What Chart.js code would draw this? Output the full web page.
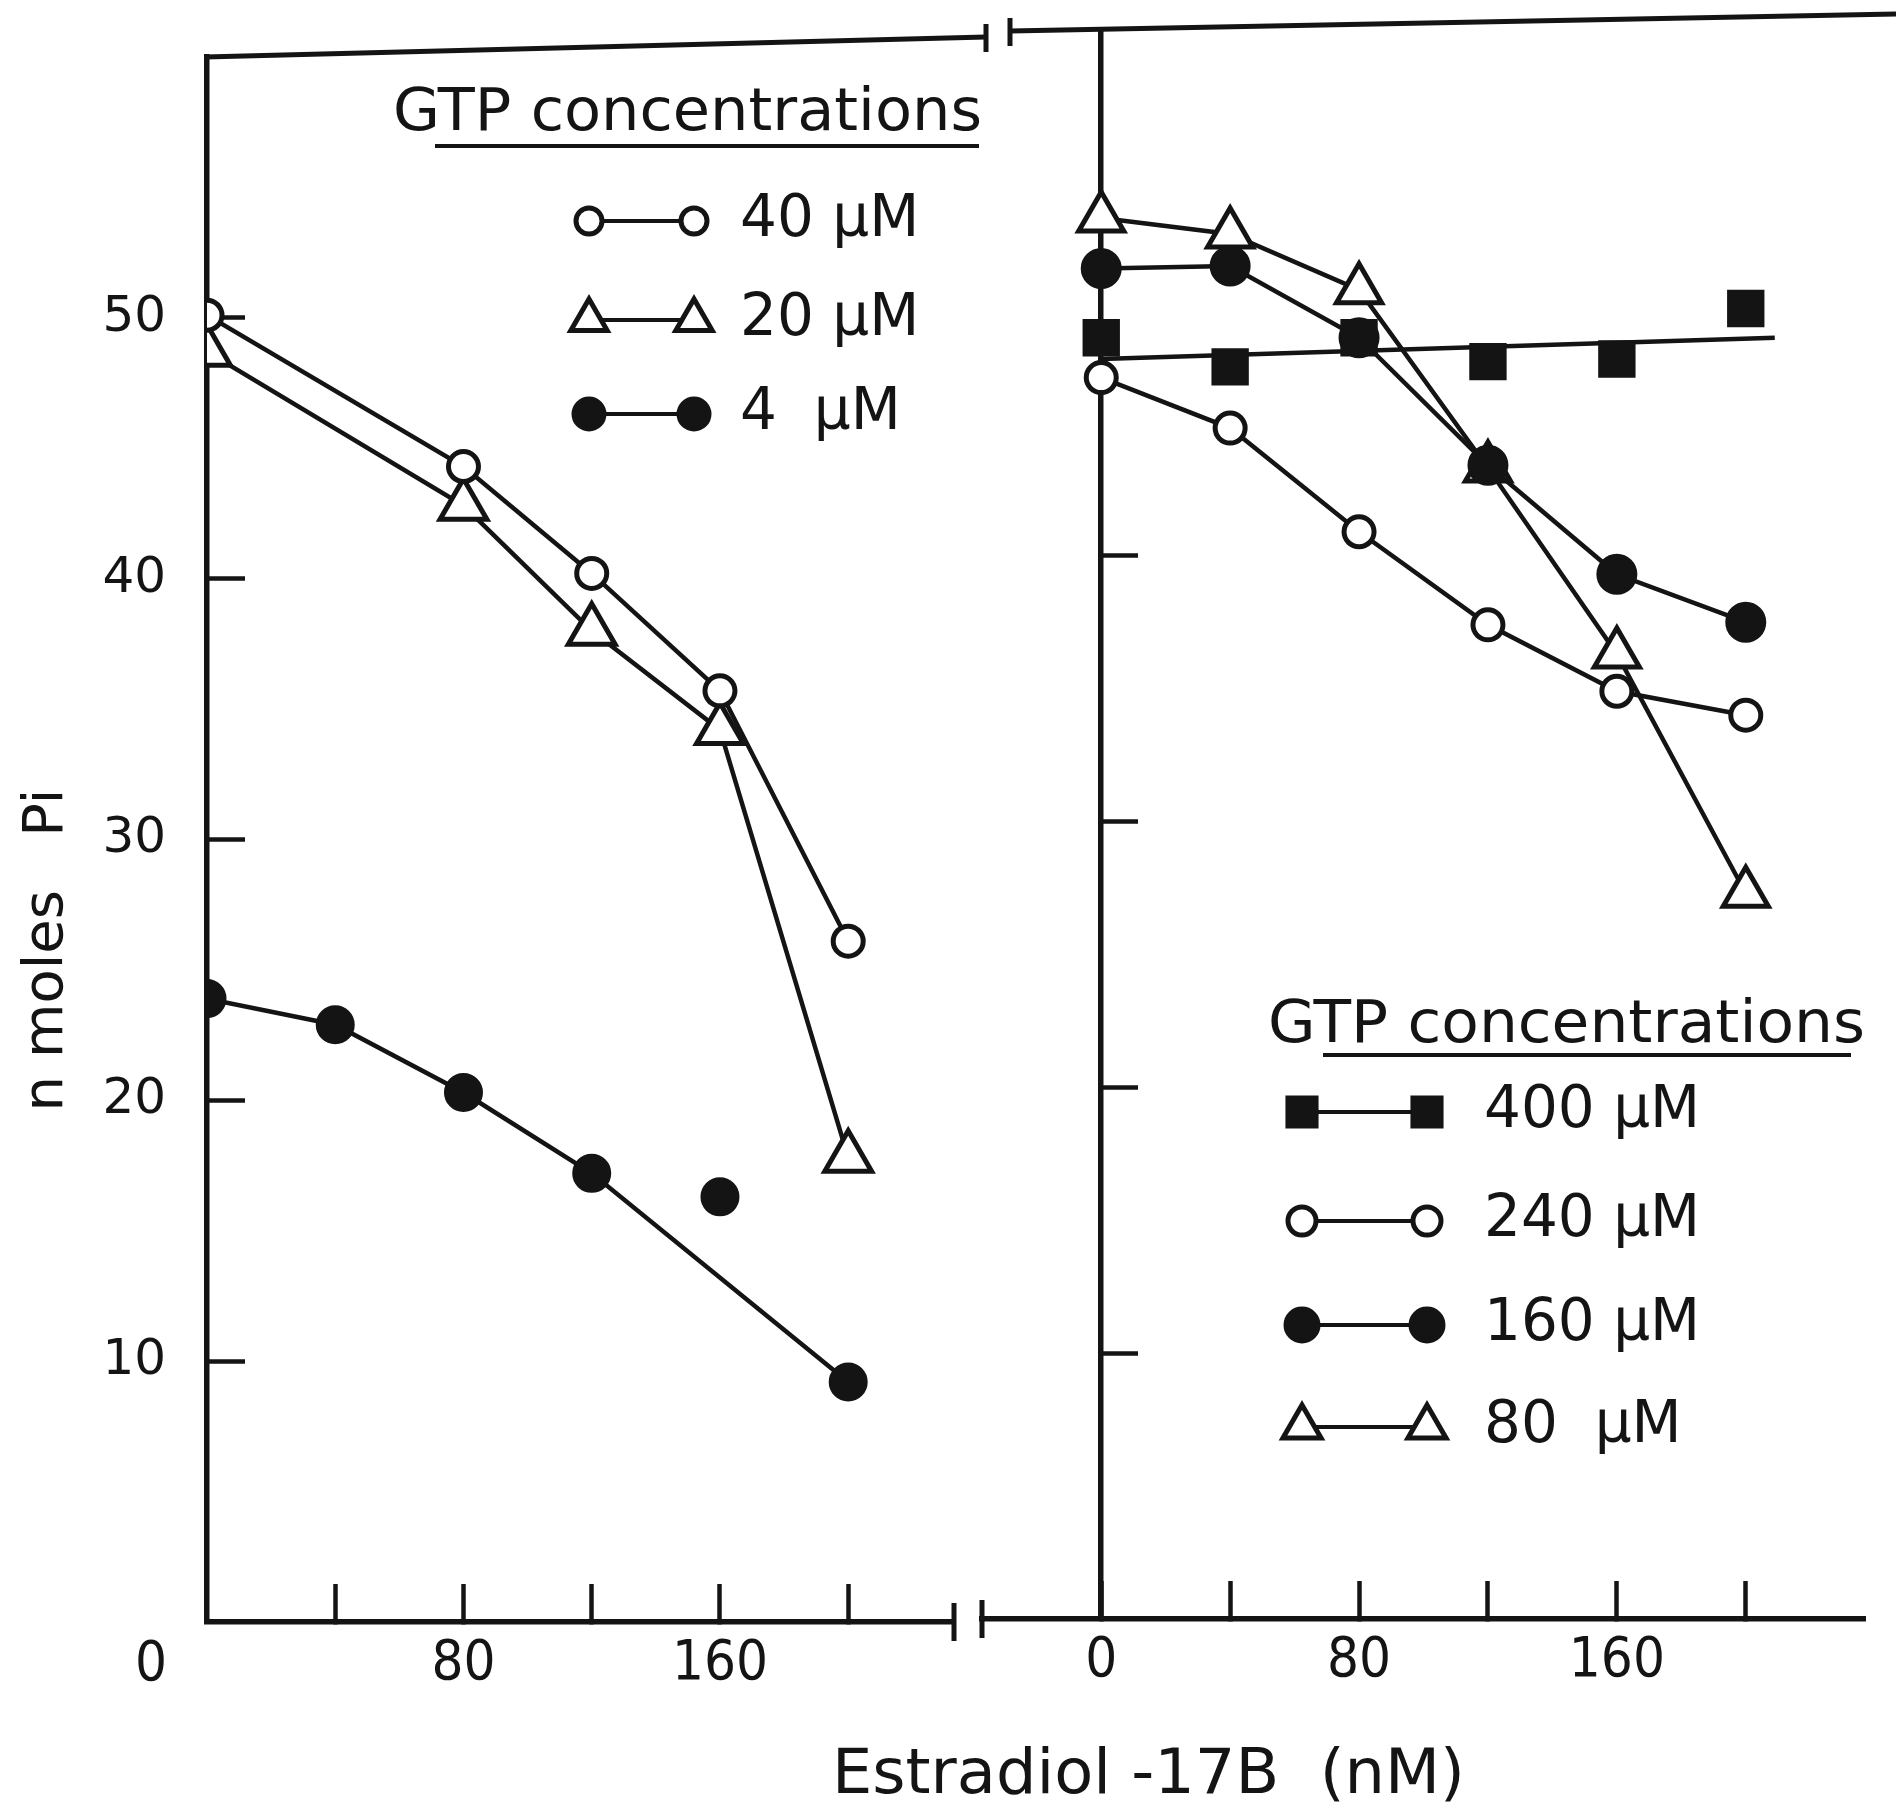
<!DOCTYPE html>
<html>
<head>
<meta charset="utf-8">
<title>GTP concentrations vs estradiol-17B</title>
<script src="https://cdn.jsdelivr.net/npm/chart.js@4.4.1/dist/chart.umd.min.js"></script>
<style>
  html, body { margin: 0; padding: 0; background: #fff; }
  #fig { position: relative; width: 1896px; height: 1803px; }
  #fig canvas { position: absolute; left: 0; top: 0; }
</style>
</head>
<body>
<div id="fig">
  <canvas id="lowGtp" width="1896" height="1803"></canvas>
  <canvas id="highGtp" width="1896" height="1803"></canvas>
</div>
<script>
// x = estradiol-17B (nM), y = n moles Pi

// left panel, low GTP
const estrLeft = [0, 80, 120, 160, 200];
const pi40uM = [50.1, 44.3, 40.2, 35.7, 26.1];
const pi20uM = [48.7, 42.8, 38.0, 34.2, 17.8];
const estrLeft4 = [0, 40, 80, 120, 160, 200];
const pi4uM = [23.9, 22.9, 20.3, 17.2, 16.3, 9.2];
const joined4uM = [true, true, true, true, false, true]; // the 160 nM point sits off the line

// right panel, high GTP
const estrRight = [0, 40, 80, 120, 160, 200];
const pi400uM = [48.2, 47.1, 48.2, 47.3, 47.4, 49.3];
const pi240uM = [46.7, 44.8, 40.9, 37.4, 34.9, 34.0];
const pi160uM = [50.8, 50.9, 48.2, 43.4, 39.3, 37.5];
const pi80uM = [52.7, 52.1, 50.0, 43.3, 36.3, 27.3];
// straight line drawn through the 400 uM points
const fit400X = [0, 209];
const fit400Y = [47.4, 48.2];

// ticks
const yTicksLeft = [10, 20, 30, 40, 50];
const yTicksRight = [10, 20, 30, 40];
const xTicksLeft = [40, 80, 120, 160, 200];
const xTicksRight = [0, 40, 80, 120, 160, 200];
const xLabelled = [0, 80, 160];

const ink = '#141414';
const FONT = '"DejaVu Sans", "Liberation Sans", sans-serif';
const NARROW = '"DejaVu Sans Condensed", "DejaVu Sans", sans-serif';

function pts(xs, ys) {
  return xs.map((x, i) => ({ x: x, y: ys[i] }));
}

function series(label, data, style, opts) {
  return Object.assign({
    label: label,
    data: data,
    showLine: true,
    borderColor: ink,
    borderWidth: 4.5,
    pointStyle: style,
    pointBorderColor: ink,
    pointBorderWidth: 5,
    pointBackgroundColor: '#fff',
    pointRadius: 15
  }, opts);
}

// the tick padding would otherwise be added to the chart area margins
function noEdgePadding(s) {
  s.paddingLeft = 0;
  s.paddingRight = 0;
  s.paddingTop = 0;
  s.paddingBottom = 0;
}

function xAxis(min, max, ticks, height) {
  return {
    type: 'linear',
    min: min,
    max: max,
    afterFit: s => { s.height = height; noEdgePadding(s); },
    afterBuildTicks: s => { s.ticks = ticks.map(v => ({ value: v })); },
    border: { color: ink, width: 5.5 },
    grid: { drawOnChartArea: false, tickLength: -38, tickWidth: 4.5, color: ink },
    ticks: {
      padding: 47, color: ink, maxRotation: 0, autoSkip: false,
      font: { family: NARROW, size: 56 },
      callback: v => xLabelled.includes(v) ? String(v) : ''
    }
  };
}

function drawMarker(ctx, ds, r, x, y) {
  ctx.fillStyle = ds.pointBackgroundColor;
  ctx.strokeStyle = ink;
  ctx.lineWidth = ds.pointBorderWidth;
  if (Chart.helpers && Chart.helpers.drawPoint) {
    Chart.helpers.drawPoint(ctx, { pointStyle: ds.pointStyle, radius: r, borderWidth: ds.pointBorderWidth, rotation: 0 }, x, y);
  } else {
    ctx.beginPath(); ctx.arc(x, y, r, 0, Math.PI * 2); ctx.fill(); ctx.stroke();
  }
}

function squeezeText(ctx, text, left, y, width) {
  const w = ctx.measureText(text).width;
  ctx.save();
  ctx.translate(left, y);
  ctx.scale(width / w, 1);
  ctx.textAlign = 'left';
  ctx.fillText(text, 0, 0);
  ctx.restore();
}

// broken-axis marks and the (slightly skewed) top frame
const framePlugin = {
  id: 'frame',
  afterDraw(chart, args, opts) {
    const ctx = chart.ctx;
    ctx.save();
    ctx.strokeStyle = ink;
    ctx.lineWidth = 5;
    opts.strokes.forEach(s => {
      ctx.beginPath(); ctx.moveTo(s[0], s[1]); ctx.lineTo(s[2], s[3]); ctx.stroke();
    });
    ctx.restore();
  }
};

// "GTP concentrations" key, drawn from the datasets
const keyPlugin = {
  id: 'gtpKey',
  afterDraw(chart, args, o) {
    const ctx = chart.ctx;
    ctx.save();
    ctx.fillStyle = ink;
    ctx.strokeStyle = ink;
    ctx.textBaseline = 'middle';
    ctx.font = '58px ' + FONT;
    squeezeText(ctx, 'GTP concentrations', o.titleLeft, o.titleY, o.titleWidth);
    ctx.lineWidth = 4;
    ctx.beginPath(); ctx.moveTo(o.underline[0], o.underline[2]); ctx.lineTo(o.underline[1], o.underline[2]); ctx.stroke();
    chart.data.datasets.filter(d => d.inKey !== false).forEach((d, i) => {
      const y = o.rows[i];
      ctx.strokeStyle = ink;
      ctx.lineWidth = 4;
      ctx.beginPath(); ctx.moveTo(o.markX[0], y); ctx.lineTo(o.markX[1], y); ctx.stroke();
      o.markX.forEach(mx => drawMarker(ctx, d, d.keyRadius, mx, y));
      ctx.fillStyle = ink;
      ctx.font = '58px ' + FONT;
      ctx.textAlign = 'left';
      ctx.fillText(d.label, o.textX, y);
    });
    ctx.restore();
  }
};

// free text: axis titles and the origin "0"
const captionPlugin = {
  id: 'captions',
  afterDraw(chart, args, o) {
    const ctx = chart.ctx;
    o.items.forEach(it => {
      ctx.save();
      ctx.fillStyle = ink;
      ctx.font = it.font;
      ctx.textBaseline = it.baseline || 'middle';
      ctx.translate(it.x, it.y);
      if (it.rotate) ctx.rotate(it.rotate);
      if (it.width) {
        squeezeText(ctx, it.text, 0, 0, it.width);
      } else {
        ctx.textAlign = it.align || 'center';
        ctx.fillText(it.text, 0, 0);
      }
      ctx.restore();
    });
  }
};

const leftSets = [
  series('40 µM', pts(estrLeft, pi40uM), 'circle', { pointRadius: 15, keyRadius: 13 }),
  series('20 µM', pts(estrLeft, pi20uM), 'triangle', { pointRadius: 27, keyRadius: 21 }),
  series('4  µM', pts(estrLeft4.filter((x, i) => joined4uM[i]), pi4uM.filter((v, i) => joined4uM[i])), 'circle',
    { pointRadius: 17, pointBackgroundColor: ink, keyRadius: 15 }),
  series('4  µM', pts(estrLeft4.filter((x, i) => !joined4uM[i]), pi4uM.filter((v, i) => !joined4uM[i])), 'circle',
    { pointRadius: 17, pointBackgroundColor: ink, showLine: false, inKey: false })
];

new Chart(document.getElementById('lowGtp'), {
  type: 'scatter',
  data: { datasets: leftSets },
  options: {
    responsive: false,
    animation: false,
    devicePixelRatio: 1,
    events: [],
    layout: { padding: { left: 0, top: 57, right: 942, bottom: 0 } },
    plugins: {
      legend: { display: false },
      tooltip: { enabled: false },
      frame: { strokes: [[205, 57, 986, 37], [986, 24, 986, 52], [954, 1603, 954, 1641]] },
      gtpKey: { titleLeft: 393, titleY: 115, titleWidth: 589, underline: [435, 979, 146],
                rows: [221, 320, 414], markX: [589, 694], textX: 740 },
      captions: { items: [
        { text: '0', x: 151, y: 1665, font: '56px ' + NARROW },
        { text: 'n moles   Pi', x: 62, y: 950, rotate: -Math.PI / 2, baseline: 'alphabetic', font: '56px ' + FONT },
        { text: 'Estradiol -17B  (nM)', x: 832, y: 1793, baseline: 'alphabetic', width: 633, font: '62px ' + FONT }
      ] }
    },
    scales: {
      x: xAxis(0, 233, xTicksLeft, 181),
      y: {
        type: 'linear',
        min: 0,
        max: 60,
        afterFit: s => { s.width = 207; noEdgePadding(s); },
        afterBuildTicks: s => { s.ticks = yTicksLeft.map(v => ({ value: v })); },
        border: { color: ink, width: 5.5 },
        grid: { drawOnChartArea: false, tickLength: -38, tickWidth: 4.5, color: ink },
        ticks: { padding: 79, color: ink, font: { family: FONT, size: 50 } }
      }
    }
  },
  plugins: [framePlugin, keyPlugin, captionPlugin]
});

const rightSets = [
  series('400 µM', pts(estrRight, pi400uM), 'rect',
    { showLine: false, pointRadius: 25, pointBorderWidth: 2, pointBackgroundColor: ink, keyRadius: 22 }),
  series('240 µM', pts(estrRight, pi240uM), 'circle', { pointRadius: 15, keyRadius: 14 }),
  series('160 µM', pts(estrRight, pi160uM), 'circle', { pointRadius: 18, pointBackgroundColor: ink, keyRadius: 16 }),
  series('80  µM', pts(estrRight, pi80uM), 'triangle', { pointRadius: 26, keyRadius: 22 }),
  series('fit', pts(fit400X, fit400Y), 'circle', { pointRadius: 0, inKey: false })
];

new Chart(document.getElementById('highGtp'), {
  type: 'scatter',
  data: { datasets: rightSets },
  options: {
    responsive: false,
    animation: false,
    devicePixelRatio: 1,
    events: [],
    layout: { padding: { left: 982, top: 32, right: 0, bottom: 0 } },
    plugins: {
      legend: { display: false },
      tooltip: { enabled: false },
      frame: { strokes: [[1010, 31, 1896, 14], [1010, 18, 1010, 46], [982, 1600, 982, 1638]] },
      gtpKey: { titleLeft: 1268, titleY: 1027, titleWidth: 597, underline: [1323, 1851, 1055],
                rows: [1112, 1221, 1325, 1427], markX: [1302, 1427], textX: 1484 }
    },
    scales: {
      x: xAxis(-37, 237, xTicksRight, 184),
      y: {
        type: 'linear',
        min: 0,
        max: 59.7,
        position: { x: 0 },
        afterFit: s => { s.width = 0; noEdgePadding(s); },
        afterBuildTicks: s => { s.ticks = yTicksRight.map(v => ({ value: v })); },
        border: { color: ink, width: 5.5 },
        grid: { drawOnChartArea: false, tickLength: -40, tickWidth: 4.5, color: ink },
        ticks: { display: false }
      }
    }
  },
  plugins: [framePlugin, keyPlugin]
});
</script>
</body>
</html>
